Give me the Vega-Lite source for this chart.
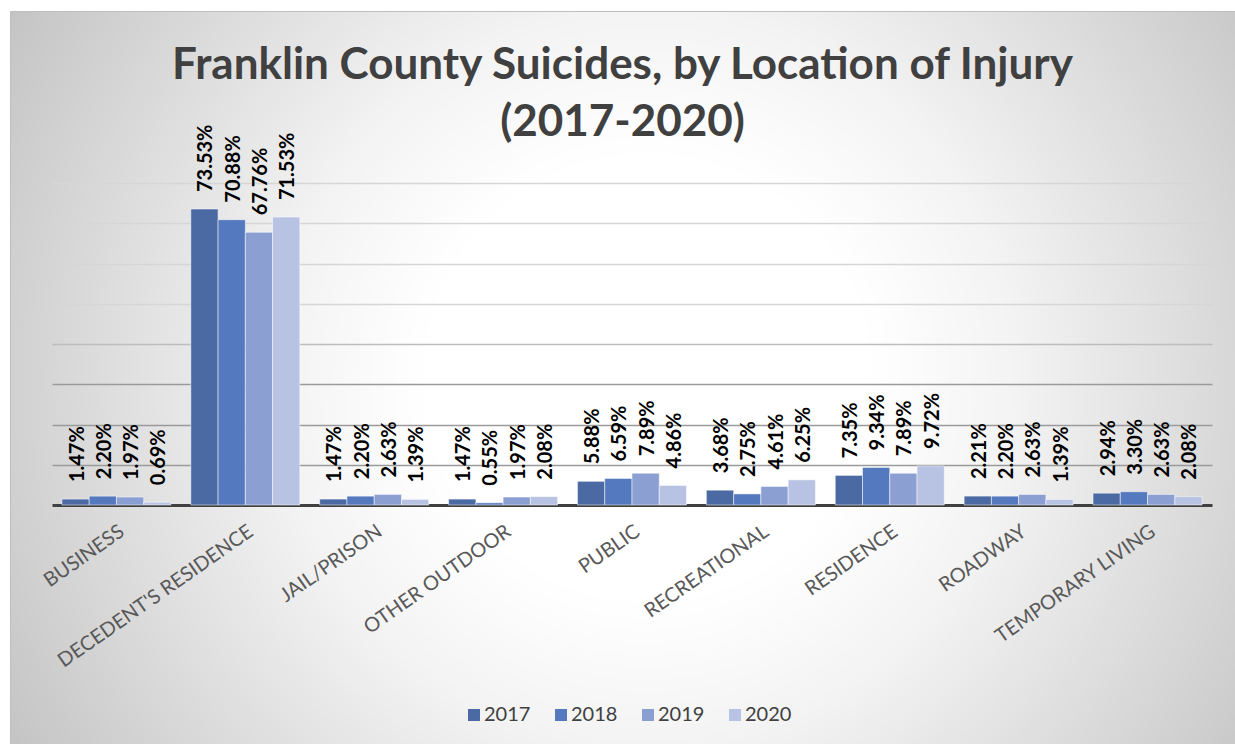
{
  "$schema": "https://vega.github.io/schema/vega-lite/v6.json",
  "width": 1225,
  "height": 733,
  "autosize": {"type": "none"},
  "padding": {"left": 10, "top": 11, "right": 0, "bottom": 0},
  "background": "#ffffff",
  "config": {"font": "Lato"},
  "view": {
    "fill": {
      "gradient": "radial",
      "x1": 0.52, "y1": 0.5, "r1": 0,
      "x2": 0.52, "y2": 0.5, "r2": 0.6,
      "stops": [
        {"offset": 0, "color": "#ffffff"},
        {"offset": 0.3, "color": "#ffffff"},
        {"offset": 0.5, "color": "#f3f3f3"},
        {"offset": 0.833, "color": "#d4d4d4"},
        {"offset": 1, "color": "#c4c4c4"}
      ]
    },
    "stroke": "#bfbfbf",
    "strokeWidth": 1
  },
  "title": {
    "text": ["Franklin County Suicides, by Location of Injury", "(2017-2020)"],
    "font": "Lato",
    "fontSize": 44,
    "fontWeight": "bold",
    "color": "#404040",
    "anchor": "middle",
    "lineHeight": 57,
    "baseline": "top",
    "offset": -134
  },
  "data": {
    "values": [
      {"location": "BUSINESS", "year": "2017", "value": 0.0147},
      {"location": "BUSINESS", "year": "2018", "value": 0.0220},
      {"location": "BUSINESS", "year": "2019", "value": 0.0197},
      {"location": "BUSINESS", "year": "2020", "value": 0.0069},
      {"location": "DECEDENT'S RESIDENCE", "year": "2017", "value": 0.7353},
      {"location": "DECEDENT'S RESIDENCE", "year": "2018", "value": 0.7088},
      {"location": "DECEDENT'S RESIDENCE", "year": "2019", "value": 0.6776},
      {"location": "DECEDENT'S RESIDENCE", "year": "2020", "value": 0.7153},
      {"location": "JAIL/PRISON", "year": "2017", "value": 0.0147},
      {"location": "JAIL/PRISON", "year": "2018", "value": 0.0220},
      {"location": "JAIL/PRISON", "year": "2019", "value": 0.0263},
      {"location": "JAIL/PRISON", "year": "2020", "value": 0.0139},
      {"location": "OTHER OUTDOOR", "year": "2017", "value": 0.0147},
      {"location": "OTHER OUTDOOR", "year": "2018", "value": 0.0055},
      {"location": "OTHER OUTDOOR", "year": "2019", "value": 0.0197},
      {"location": "OTHER OUTDOOR", "year": "2020", "value": 0.0208},
      {"location": "PUBLIC", "year": "2017", "value": 0.0588},
      {"location": "PUBLIC", "year": "2018", "value": 0.0659},
      {"location": "PUBLIC", "year": "2019", "value": 0.0789},
      {"location": "PUBLIC", "year": "2020", "value": 0.0486},
      {"location": "RECREATIONAL", "year": "2017", "value": 0.0368},
      {"location": "RECREATIONAL", "year": "2018", "value": 0.0275},
      {"location": "RECREATIONAL", "year": "2019", "value": 0.0461},
      {"location": "RECREATIONAL", "year": "2020", "value": 0.0625},
      {"location": "RESIDENCE", "year": "2017", "value": 0.0735},
      {"location": "RESIDENCE", "year": "2018", "value": 0.0934},
      {"location": "RESIDENCE", "year": "2019", "value": 0.0789},
      {"location": "RESIDENCE", "year": "2020", "value": 0.0972},
      {"location": "ROADWAY", "year": "2017", "value": 0.0221},
      {"location": "ROADWAY", "year": "2018", "value": 0.0220},
      {"location": "ROADWAY", "year": "2019", "value": 0.0263},
      {"location": "ROADWAY", "year": "2020", "value": 0.0139},
      {"location": "TEMPORARY LIVING", "year": "2017", "value": 0.0294},
      {"location": "TEMPORARY LIVING", "year": "2018", "value": 0.0330},
      {"location": "TEMPORARY LIVING", "year": "2019", "value": 0.0263},
      {"location": "TEMPORARY LIVING", "year": "2020", "value": 0.0208}
    ]
  },
  "encoding": {
    "x": {
      "field": "location",
      "type": "nominal",
      "sort": null,
      "scale": {"range": [42, 1202], "paddingInner": 0.154, "paddingOuter": 0.077},
      "axis": {
        "title": null,
        "labelAngle": -35,
        "labelFont": "Lato",
        "labelFontSize": 20,
        "labelColor": "#595959",
        "labelLimit": 400,
        "ticks": false,
        "tickSize": 0,
        "labelPadding": 16,
        "domainColor": "#404040",
        "domainWidth": 3,
        "offset": -239,
        "grid": false
      }
    },
    "xOffset": {"field": "year", "type": "nominal"},
    "y": {
      "field": "value",
      "type": "quantitative",
      "scale": {"domain": [0, 0.8], "range": [494, 172], "nice": false},
      "axis": {
        "title": null,
        "labels": false,
        "ticks": false,
        "domain": false,
        "grid": true,
        "values": [0.1, 0.2, 0.3, 0.4, 0.5, 0.6, 0.7, 0.8],
        "gridWidth": 1.5,
        "gridColor": {
          "condition": [
            {"test": "datum.value <= 0.31", "value": "#9a9a9a"},
            {"test": "datum.value <= 0.41", "value": "#bdbdbd"}
          ],
          "value": "#d6d6d6"
        }
      }
    }
  },
  "layer": [
    {
      "mark": {"type": "bar", "stroke": "#ffffff", "strokeWidth": 1, "strokeOpacity": 0.5},
      "encoding": {
        "color": {
          "field": "year",
          "type": "nominal",
          "scale": {
            "domain": ["2017", "2018", "2019", "2020"],
            "range": ["#4b6aa3", "#5479be", "#8b9fd3", "#b8c3e3"]
          },
          "legend": {
            "orient": "none",
            "legendX": 454,
            "legendY": 694,
            "direction": "horizontal",
            "title": null,
            "symbolType": "square",
            "symbolSize": 144,
            "symbolStrokeWidth": 0,
            "labelFont": "Lato",
            "labelFontSize": 20,
            "labelColor": "#404040",
            "labelOffset": 0,
            "columnPadding": 20
          }
        }
      }
    },
    {
      "mark": {
        "type": "text",
        "angle": -90,
        "align": "left",
        "baseline": "middle",
        "dx": 17,
        "dy": 2,
        "font": "Lato",
        "fontSize": 20,
        "fontWeight": "bold",
        "color": "#000000"
      },
      "encoding": {
        "text": {"field": "value", "type": "quantitative", "format": ".2%"}
      }
    }
  ]
}
